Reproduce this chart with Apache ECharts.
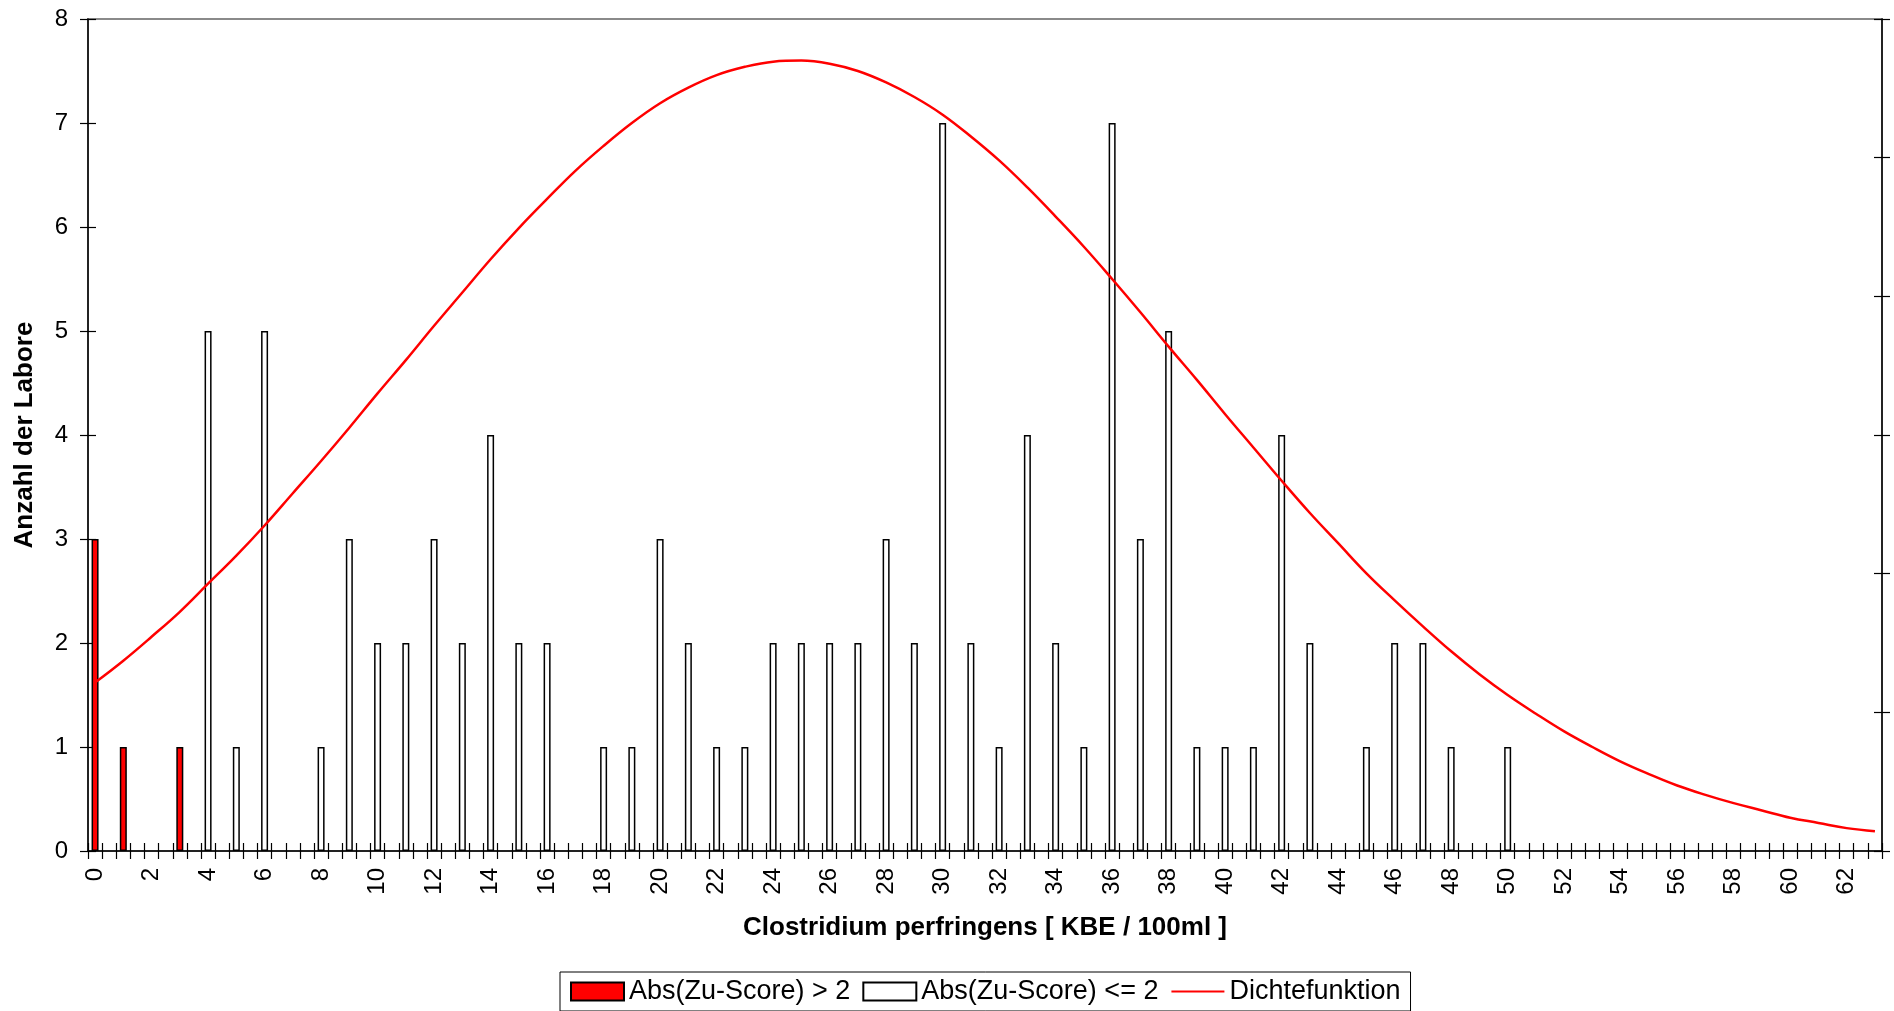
<!DOCTYPE html>
<html>
<head>
<meta charset="utf-8">
<script src="https://cdn.jsdelivr.net/npm/echarts@6/dist/echarts.min.js"></script>
<style>
html,body{margin:0;padding:0;background:#fff;}
#chart{width:1894px;height:1011px;}
</style>
</head>
<body>
<div id="chart"></div>
<script>
// Values (x = KBE / 100ml, counts = number of labs)
const redX = [0, 1, 3];
const redCount = [3, 1, 1];
const whiteX = [4,5,6,8,9,10,11,12,13,14,15,16,18,19,20,21,22,23,24,25,26,27,28,29,30,31,32,33,34,35,36,37,38,39,40,41,42,43,45,46,47,48,50];
const whiteCount = [5,1,5,1,3,2,2,3,2,4,2,2,1,1,3,2,1,1,2,2,2,2,3,2,7,2,1,4,2,1,7,3,5,1,1,1,4,2,1,2,2,1,1];
// density curve read at x = 0..63 (in count units)
const densityY = [1.62,1.83,2.06,2.30,2.57,2.84,3.13,3.44,3.75,4.07,
  4.40,4.72,5.05,5.37,5.69,5.99,6.27,6.54,6.78,7.00,
  7.19,7.34,7.46,7.54,7.59,7.60,7.57,7.50,7.39,7.25,
  7.08,6.87,6.64,6.38,6.10,5.81,5.50,5.18,4.85,4.53,
  4.20,3.88,3.56,3.25,2.96,2.67,2.41,2.16,1.92,1.70,
  1.50,1.32,1.15,1.00,0.86,0.74,0.63,0.54,0.46,0.39,
  0.32,0.27,0.22,0.19];
const xMax = 63;          // last category value
const xStep = 0.5;        // category step (half units)
const yMax = 8;

const categories = [];
for (let i = 0; i <= xMax / xStep; i++) categories.push(String(i * xStep));
const idx = v => Math.round(v / xStep);

const FONT = '"Liberation Sans", Arial, sans-serif';
const chart = echarts.init(document.getElementById('chart'), null, {renderer: 'canvas'});

const tickStyle = {color: '#000', width: 1.2};
const option = {
  animation: false,
  backgroundColor: '#fff',
  textStyle: {fontFamily: FONT, color: '#000'},
  grid: {left: 88, right: 12, top: 19, bottom: 160, show: true, borderColor: '#8a8a8a', borderWidth: 2, backgroundColor: 'transparent'},
  legend: {
    left: 560, top: 972,
    padding: [6, 10, 6, 10],
    itemWidth: 53, itemHeight: 18, itemGap: 12,
    borderColor: '#000', borderWidth: 1,
    selectedMode: false,
    textStyle: {fontSize: 27, fontFamily: FONT, color: '#000'},
    data: [
      {name: 'Abs(Zu-Score) > 2', icon: 'rect'},
      {name: 'Abs(Zu-Score) <= 2', icon: 'rect'},
      {name: 'Dichtefunktion', itemStyle: {opacity: 0}}
    ]
  },
  xAxis: [{
    type: 'category', data: categories, boundaryGap: true,
    name: 'Clostridium perfringens [ KBE / 100ml ]', nameLocation: 'middle', nameGap: 64,
    nameTextStyle: {fontSize: 26, fontWeight: 'bold', color: '#000', fontFamily: FONT},
    axisLine: {lineStyle: {color: '#000', width: 1.5}},
    axisTick: {show: true, interval: 0, length: 8, inside: false, lineStyle: tickStyle},
    axisLabel: {interval: 3, rotate: 90, fontSize: 24, color: '#000', margin: 17, fontFamily: FONT},
    splitLine: {show: false}
  }, {
    type: 'category', data: categories, boundaryGap: true, position: 'bottom',
    axisLine: {show: false},
    axisTick: {show: true, interval: 0, length: 8, inside: true, lineStyle: tickStyle},
    axisLabel: {show: false}, splitLine: {show: false}
  }],
  yAxis: [{
    type: 'value', min: 0, max: yMax, interval: 1, position: 'left',
    name: 'Anzahl der Labore', nameLocation: 'middle', nameGap: 50, nameRotate: 90,
    nameTextStyle: {fontSize: 26, fontWeight: 'bold', color: '#000', fontFamily: FONT},
    axisLine: {show: true, lineStyle: {color: '#000', width: 1.5}},
    axisTick: {show: true, length: 8, lineStyle: tickStyle},
    axisLabel: {fontSize: 24, color: '#000', margin: 20, fontFamily: FONT},
    splitLine: {show: false}
  }, {
    type: 'value', min: 0, max: yMax, interval: 1, position: 'left',
    axisLine: {show: false},
    axisTick: {show: true, inside: true, length: 8, lineStyle: tickStyle},
    axisLabel: {show: false}, splitLine: {show: false}
  }, {
    type: 'value', min: 0, max: 6, interval: 1, position: 'right',
    axisLine: {show: true, lineStyle: {color: '#000', width: 1.5}},
    axisTick: {show: true, length: 8, lineStyle: tickStyle},
    axisLabel: {show: false}, splitLine: {show: false}
  }, {
    type: 'value', min: 0, max: 6, interval: 1, position: 'right',
    axisLine: {show: false},
    axisTick: {show: true, inside: true, length: 8, lineStyle: tickStyle},
    axisLabel: {show: false}, splitLine: {show: false}
  }],
  series: [{
    name: 'Abs(Zu-Score) > 2', type: 'bar', xAxisIndex: 0, yAxisIndex: 0,
    barWidth: 7, barGap: '-100%',
    itemStyle: {color: '#ff0000', borderColor: '#000', borderWidth: 1.5},
    data: redX.map((x, i) => [idx(x), redCount[i]])
  }, {
    name: 'Abs(Zu-Score) <= 2', type: 'bar', xAxisIndex: 0, yAxisIndex: 0,
    barWidth: 7, barGap: '-100%',
    itemStyle: {color: '#ffffff', borderColor: '#000', borderWidth: 1.5},
    data: whiteX.map((x, i) => [idx(x), whiteCount[i]])
  }, {
    name: 'Dichtefunktion', type: 'line', xAxisIndex: 0, yAxisIndex: 0,
    smooth: 0.4, symbol: 'none', z: 5,
    lineStyle: {color: '#ff0000', width: 2.5},
    itemStyle: {color: '#ff0000'},
    data: densityY.map((y, k) => [idx(k), y])
  }]
};
chart.setOption(option);
</script>
</body>
</html>
